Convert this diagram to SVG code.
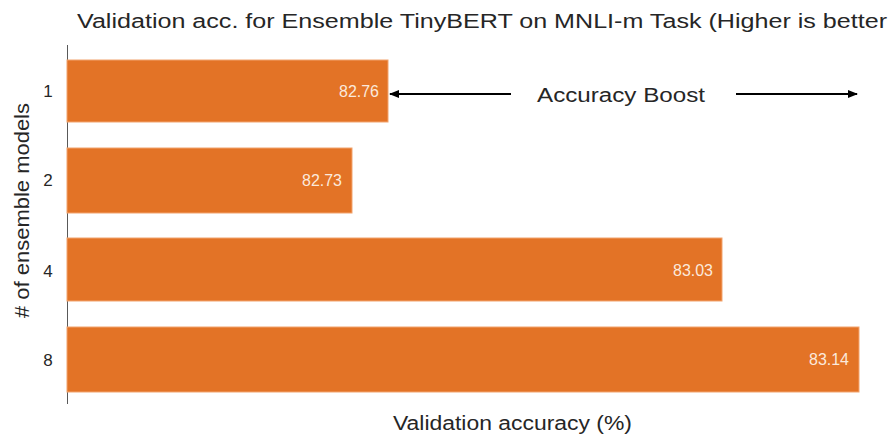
<svg xmlns="http://www.w3.org/2000/svg" width="891" height="434" viewBox="0 0 891 434">
<style>
text{font-family:"Liberation Sans","DejaVu Sans",sans-serif;fill:#262626}
.bar{fill:#E37326;stroke:#F2A46E;stroke-width:1}
.val{fill:#FBE9DC;font-size:16px;text-anchor:end}
.tick{font-size:17px;text-anchor:middle}
.conn{stroke:#000;stroke-width:2;fill:none}
</style>
<defs>
<marker id="ah" viewBox="0 0 10 10" refX="9" refY="5" markerWidth="5" markerHeight="5" orient="auto-start-reverse" markerUnits="strokeWidth">
<path d="M0,1 L10,5 L0,9 z" fill="#000"/>
</marker>
</defs>
<rect width="891" height="434" fill="#fff"/>
<text x="77" y="28" font-size="20" textLength="810" lengthAdjust="spacingAndGlyphs">Validation acc. for Ensemble TinyBERT on MNLI-m Task (Higher is better</text>
<line x1="67.5" y1="45" x2="67.5" y2="404" stroke="#595959" stroke-width="1"/>
<g id="bar1"><rect class="bar" x="67" y="60" width="321" height="62"/><text class="val" x="379" y="97" textLength="40" lengthAdjust="spacingAndGlyphs">82.76</text><text class="tick" x="48" y="97">1</text></g>
<g id="bar2"><rect class="bar" x="67" y="148" width="285" height="65"/><text class="val" x="342" y="186" textLength="40" lengthAdjust="spacingAndGlyphs">82.73</text><text class="tick" x="48" y="186">2</text></g>
<g id="bar4"><rect class="bar" x="67" y="238" width="655" height="63"/><text class="val" x="713" y="276" textLength="40" lengthAdjust="spacingAndGlyphs">83.03</text><text class="tick" x="48" y="277">4</text></g>
<g id="bar8"><rect class="bar" x="67" y="327" width="792" height="65"/><text class="val" x="849" y="365" textLength="40" lengthAdjust="spacingAndGlyphs">83.14</text><text class="tick" x="48" y="366">8</text></g>
<g id="boost"><text x="537" y="102" font-size="20" textLength="168" lengthAdjust="spacingAndGlyphs">Accuracy Boost</text></g>
<g id="connectors">
<line class="conn" x1="511" y1="94" x2="390" y2="94" marker-end="url(#ah)"/>
<line class="conn" x1="736" y1="94" x2="857" y2="94" marker-end="url(#ah)"/>
</g>
<text x="393" y="430" font-size="20" textLength="239" lengthAdjust="spacingAndGlyphs">Validation accuracy (%)</text>
<text transform="translate(29,318) rotate(-90)" font-size="20" textLength="215" lengthAdjust="spacingAndGlyphs"># of ensemble models</text>
</svg>
